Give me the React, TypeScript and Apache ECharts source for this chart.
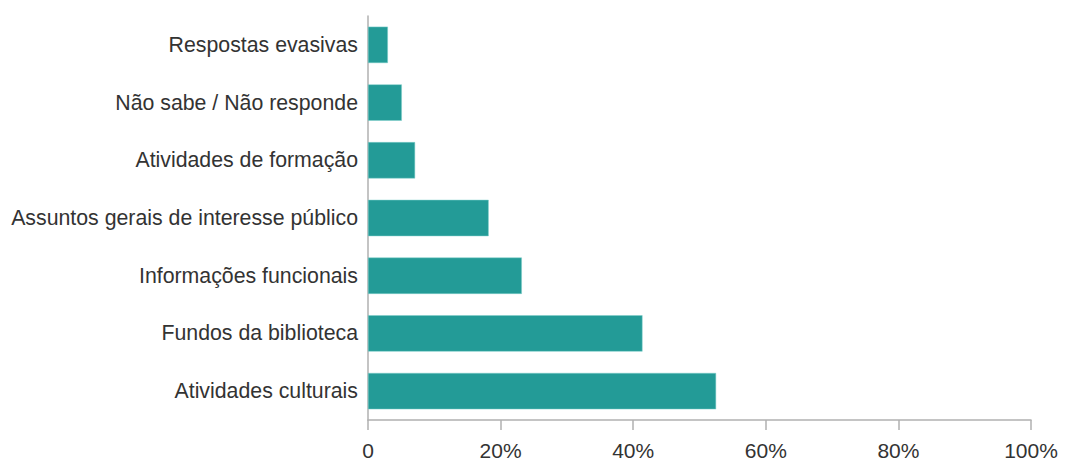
import React, { useEffect, useRef } from "react";
import * as echarts from "echarts";

const categories = [
  "Atividades culturais",
  "Fundos da biblioteca",
  "Informações funcionais",
  "Assuntos gerais de interesse público",
  "Atividades de formação",
  "Não sabe / Não responde",
  "Respostas evasivas",
];
const values = [52.5, 41.4, 23.2, 18.2, 7.1, 5.1, 3.0];
const xTicks = [0, 20, 40, 60, 80, 100];

export default function App() {
  const ref = useRef<HTMLDivElement>(null);
  useEffect(() => {
    const chart = echarts.init(ref.current!, null, { renderer: "svg" });
    chart.setOption({
      animation: false,
      grid: { left: 368, right: 42, top: 16, bottom: 36 },
      xAxis: {
        type: "value",
        min: 0,
        max: 100,
        interval: 20,
        axisLine: { show: true, lineStyle: { color: "#b0b0b0", width: 1.5 } },
        axisTick: { show: true, length: 10, lineStyle: { color: "#b0b0b0", width: 1.5 } },
        splitLine: { show: false },
        axisLabel: {
          color: "#333333",
          fontSize: 21,
          fontFamily: "Liberation Sans, Arial, sans-serif",
          margin: 20,
          formatter: (v: number) => (xTicks.includes(v) ? (v === 0 ? "0" : v + "%") : ""),
        },
      },
      yAxis: {
        type: "category",
        data: categories,
        axisLine: { show: true, lineStyle: { color: "#b0b0b0", width: 1.5 } },
        axisTick: { show: false },
        axisLabel: {
          color: "#333333",
          fontSize: 21.3,
          fontFamily: "Liberation Sans, Arial, sans-serif",
          margin: 10,
        },
      },
      series: [
        {
          type: "bar",
          data: values,
          barCategoryGap: "37%",
          itemStyle: { color: "#239b97", borderColor: "#7fcfcb", borderWidth: 0.5 },
        },
      ],
    });
    return () => chart.dispose();
  }, []);
  return (
    <div
      ref={ref}
      style={{ position: "absolute", left: 0, top: 0, width: 1073, height: 461 }}
    />
  );
}
